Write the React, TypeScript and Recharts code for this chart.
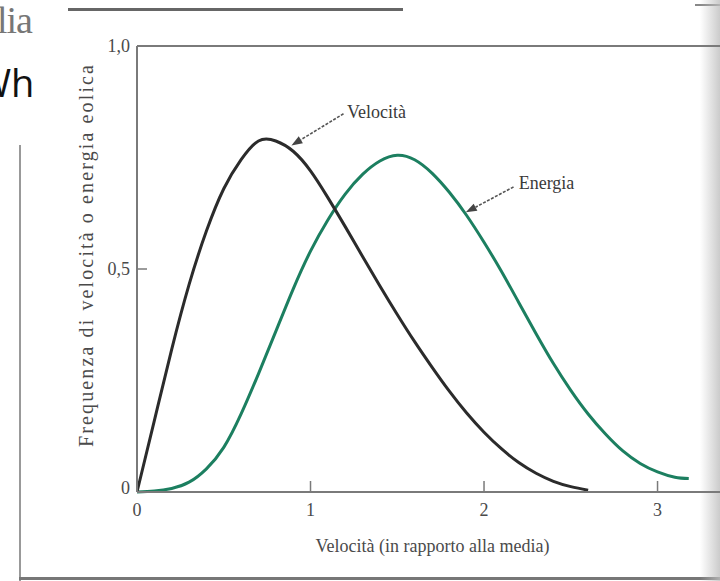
import React from 'react';
import { LineChart, Line, XAxis, YAxis, ReferenceLine, ReferenceDot } from 'recharts';

// velocity relative to the mean
const velocitaX = [0, 0.1, 0.2, 0.3, 0.4, 0.5, 0.6, 0.7, 0.8, 0.9, 1.0, 1.1, 1.2, 1.3, 1.4, 1.5, 1.6, 1.7, 1.8, 1.9, 2.0, 2.1, 2.2, 2.3, 2.4, 2.5, 2.6];
const velocitaY = [0, 0.16, 0.32, 0.465, 0.585, 0.68, 0.745, 0.787, 0.787, 0.764, 0.72, 0.66, 0.595, 0.528, 0.462, 0.398, 0.337, 0.28, 0.226, 0.177, 0.134, 0.097, 0.066, 0.042, 0.024, 0.012, 0.004];

const energiaX = [0, 0.1, 0.2, 0.3, 0.4, 0.5, 0.6, 0.7, 0.8, 0.9, 1.0, 1.1, 1.2, 1.3, 1.4, 1.5, 1.6, 1.7, 1.8, 1.9, 2.0, 2.1, 2.2, 2.3, 2.4, 2.5, 2.6, 2.7, 2.8, 2.9, 3.0, 3.1, 3.18];
const energiaY = [0, 0.002, 0.008, 0.022, 0.052, 0.1, 0.175, 0.265, 0.36, 0.455, 0.54, 0.61, 0.668, 0.712, 0.742, 0.755, 0.745, 0.715, 0.672, 0.62, 0.56, 0.495, 0.425, 0.355, 0.288, 0.228, 0.175, 0.13, 0.092, 0.064, 0.045, 0.033, 0.03];

const xTicks = [0, 1, 2, 3];
const yTicks = [0, 0.5, 1];

const velocitaData = velocitaX.map((x, i) => ({ x, y: velocitaY[i] }));
const energiaData = energiaX.map((x, i) => ({ x, y: energiaY[i] }));

const SERIF = '"Liberation Serif", "DejaVu Serif", serif';
const AXIS = '#7a7a7a';
const TEXT = '#4a4a4a';

const XTick = ({ x, y, payload }: any) => (
  <g>
    {payload.value !== 0 && (
      <line x1={x} x2={x} y1={y} y2={y - 11} stroke={AXIS} strokeWidth={1.5} />
    )}
    <text x={x} y={y + 24} textAnchor="middle" fontFamily={SERIF} fontSize={18} fill={TEXT}>
      {payload.value}
    </text>
  </g>
);

const YTick = ({ x, y, payload }: any) => {
  const v = payload.value;
  const label = v === 0 ? '0' : v.toFixed(1).replace('.', ',');
  return (
    <g>
      {v === 0.5 && <line x1={x} x2={x + 10} y1={y} y2={y} stroke={AXIS} strokeWidth={1.5} />}
      <text x={x - 7} y={y + (v === 0 ? 2 : 6)} textAnchor="end" fontFamily={SERIF} fontSize={18} fill={TEXT}>
        {label}
      </text>
    </g>
  );
};

const Arrow = (p: any) => {
  const { x1, y1, x2, y2 } = p;
  const a = Math.atan2(y2 - y1, x2 - x1);
  const len = 11;
  const w = 4;
  const bx = x2 - len * Math.cos(a);
  const by = y2 - len * Math.sin(a);
  const px = -Math.sin(a) * w;
  const py = Math.cos(a) * w;
  return (
    <g>
      <line x1={x1} y1={y1} x2={bx} y2={by} stroke="#555" strokeWidth={1.6} strokeDasharray="3 1.5" />
      <polygon points={`${x2},${y2} ${bx + px},${by + py} ${bx - px},${by - py}`} fill="#444" />
    </g>
  );
};

const note = (text: string) => (p: any) => (
  <text x={p.cx} y={p.cy + 6} fontFamily={SERIF} fontSize={18} fill="#3a3a3a">
    {text}
  </text>
);

export default function App() {
  return (
    <div style={{ position: 'absolute', left: 0, top: 0, width: 720, height: 581, overflow: 'hidden', background: '#fff' }}>
      {/* scan leftovers around the figure */}
      <div style={{ position: 'absolute', left: -3, top: -2, fontFamily: SERIF, fontSize: 38, color: '#777', letterSpacing: -1 }}>lia</div>
      <div style={{ position: 'absolute', left: -24, top: 56, fontFamily: '"Open Sans", sans-serif', fontSize: 38, color: '#111' }}>Wh</div>
      <div style={{ position: 'absolute', left: 68, top: 8, width: 335, height: 3, background: '#666' }} />
      <div style={{ position: 'absolute', left: 695, top: 4, width: 25, height: 2, background: '#888' }} />
      <div style={{ position: 'absolute', left: 19, top: 145, width: 2, height: 436, background: '#999' }} />
      <div style={{ position: 'absolute', left: 19, top: 577, width: 701, height: 3, background: '#777' }} />
      <div style={{ position: 'absolute', left: 700, top: 0, width: 20, height: 581, background: 'linear-gradient(to right, rgba(200,200,200,0), rgba(190,190,190,0.8))' }} />

      <div style={{ position: 'absolute', left: 0, top: 0 }}>
        <LineChart width={720} height={581} margin={{ top: 46, right: 0, bottom: 0, left: 0 }}>
          <XAxis
            type="number"
            dataKey="x"
            domain={[0, 3.36]}
            ticks={xTicks}
            allowDataOverflow
            height={89}
            tickSize={0}
            tickMargin={0}
            tick={<XTick />}
            axisLine={{ stroke: AXIS, strokeWidth: 2 }}
            label={{
              content: ({ viewBox }: any) => (
                <text x={viewBox.x + viewBox.width / 2 + 4} y={viewBox.y + 60} textAnchor="middle" fontFamily={SERIF} fontSize={18} fill={TEXT}>
                  Velocità (in rapporto alla media)
                </text>
              ),
            }}
          />
          <YAxis
            type="number"
            dataKey="y"
            domain={[0, 1]}
            ticks={yTicks}
            width={137}
            tickSize={0}
            tickMargin={0}
            tick={<YTick />}
            axisLine={{ stroke: AXIS, strokeWidth: 2 }}
            label={{
              content: ({ viewBox }: any) => {
                const cx = 93;
                const cy = viewBox.y + viewBox.height / 2 - 13;
                return (
                  <text
                    x={cx}
                    y={cy}
                    transform={`rotate(-90, ${cx}, ${cy})`}
                    textAnchor="middle"
                    fontFamily={SERIF}
                    fontSize={20}
                    fill={TEXT}
                    textLength={382}
                    lengthAdjust="spacing"
                  >
                    Frequenza di velocità o energia eolica
                  </text>
                );
              },
            }}
          />
          <ReferenceLine y={1} stroke={AXIS} strokeWidth={2} />
          <Line
            data={energiaData}
            dataKey="y"
            type="natural"
            stroke="#1c7f60"
            strokeWidth={3}
            dot={false}
            isAnimationActive={false}
          />
          <Line
            data={velocitaData}
            dataKey="y"
            type="natural"
            stroke="#2b2b2b"
            strokeWidth={3}
            dot={false}
            isAnimationActive={false}
          />
          <ReferenceLine segment={[{ x: 1.19, y: 0.848 }, { x: 0.89, y: 0.777 }]} shape={Arrow} />
          <ReferenceLine segment={[{ x: 2.17, y: 0.684 }, { x: 1.895, y: 0.627 }]} shape={Arrow} />
          <ReferenceDot x={1.21} y={0.852} r={0} shape={note('Velocità')} />
          <ReferenceDot x={2.2} y={0.692} r={0} shape={note('Energia')} />
        </LineChart>
      </div>
    </div>
  );
}
